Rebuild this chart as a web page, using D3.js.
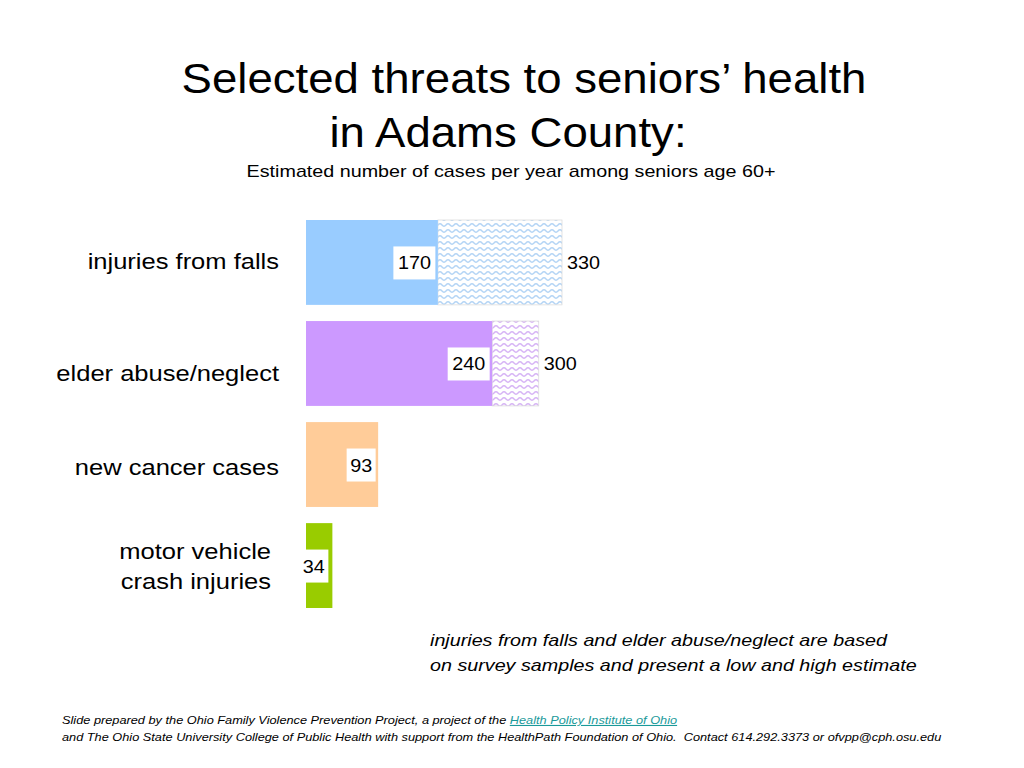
<!DOCTYPE html>
<html>
<head>
<meta charset="utf-8">
<script src="https://cdn.jsdelivr.net/npm/d3@7"></script>
<style>
  body { margin: 0; background: #fff; }
  svg text { font-family: "Liberation Sans", Arial, sans-serif; }
</style>
</head>
<body>
<div id="chart"></div>
<script>
// data
var categories = ["injuries from falls", "elder abuse/neglect", "new cancer cases", "motor vehicle\ncrash injuries"];
var lowValues = [170, 240, 93, 34];
var highValues = [330, 300, null, null];
var barColors = ["#99ccff", "#cc99ff", "#ffcc99", "#99cc00"];
var waveColors = ["#b3d4f5", "#d6b3f5", null, null];

var svgWidth = 1024;
var svgHeight = 768;
// the slide's text is a bit wider than Liberation Sans
var stretch = 1.16;

var svg = d3.select('#chart')
    .append('svg')
    .attr('width', svgWidth)
    .attr('height', svgHeight);

// helper: text placed at x,y and stretched horizontally
function addText(x, y, size, anchor, sx) {
    return svg.append('text')
        .attr('transform', `translate(${x}, ${y}) scale(${sx || stretch}, 1)`)
        .attr('text-anchor', anchor || 'start')
        .style('font-size', size + 'px');
}

// wavy patterns for the high estimate part
var defs = svg.append('defs');
waveColors.forEach(function(c, i) {
    if (!c) return;
    var p = defs.append('pattern')
        .attr('id', 'wave' + i)
        .attr('patternUnits', 'userSpaceOnUse')
        .attr('width', 8)
        .attr('height', 6);
    p.append('rect').attr('width', 8).attr('height', 6).attr('fill', '#fff');
    p.append('path')
        .attr('d', 'M-2,3 Q0,0.5 2,3 T6,3 T10,3')
        .attr('fill', 'none')
        .attr('stroke', c)
        .attr('stroke-width', 1.3);
});

// scales
var xScale = d3.scaleLinear()
    .domain([0, 330])
    .range([306, 562]);

var yScale = d3.scaleBand()
    .domain(categories)
    .range([220, 608])
    .paddingInner(0.16)
    .paddingOuter(0);

var rows = categories.map(function(c, i) {
    return { cat: c, low: lowValues[i], high: highValues[i], i: i };
});

// high estimate bars
svg.selectAll('.high')
    .data(rows.filter(d => d.high))
    .enter()
    .append('rect')
    .attr('x', d => xScale(d.low))
    .attr('y', d => yScale(d.cat))
    .attr('width', d => xScale(d.high) - xScale(d.low))
    .attr('height', yScale.bandwidth())
    .attr('fill', d => 'url(#wave' + d.i + ')')
    .attr('stroke', '#dcdcdc')
    .attr('stroke-width', 0.8);

// low estimate bars
svg.selectAll('.low')
    .data(rows)
    .enter()
    .append('rect')
    .attr('x', xScale(0))
    .attr('y', d => yScale(d.cat))
    .attr('width', d => xScale(d.low) - xScale(0))
    .attr('height', yScale.bandwidth())
    .attr('fill', d => barColors[d.i]);

// value boxes inside low bars
var boxW = function(d) { return String(d.low).length * 13 + 3; };
var boxRight = function(d) { return xScale(d.low) - (d.low < 50 ? 4 : 2.5); };

svg.selectAll('.valbox')
    .data(rows)
    .enter()
    .append('rect')
    .attr('x', d => boxRight(d) - boxW(d))
    .attr('y', d => yScale(d.cat) + yScale.bandwidth() / 2 - 16)
    .attr('width', boxW)
    .attr('height', 33)
    .attr('fill', '#fff');

rows.forEach(function(d) {
    addText(boxRight(d) - boxW(d) / 2, yScale(d.cat) + yScale.bandwidth() / 2 + 7, 18, 'middle', 1.1)
        .text(d.low);
    if (d.high) {
        addText(xScale(d.high) + 5, yScale(d.cat) + yScale.bandwidth() / 2 + 7, 18, 'start', 1.1)
            .text(d.high);
    }
});

// category labels
var labelShift = [-1, 10, 2, 0];
rows.forEach(function(d) {
    var lines = d.cat.split('\n');
    var cy = yScale(d.cat) + yScale.bandwidth() / 2 + labelShift[d.i];
    lines.forEach(function(l, k) {
        addText(lines.length > 1 ? 271 : 279, cy + 8 + (k - (lines.length - 1) / 2) * 30, 22, 'end')
            .text(l);
    });
});

// titles
addText(524, 93, 43, 'middle', 1.06).text('Selected threats to seniors\u2019 health');
addText(508, 147, 43, 'middle', 1.06).text('in Adams County:');
addText(511, 177, 17, 'middle').text('Estimated number of cases per year among seniors age 60+');

// note
addText(430, 646, 17, 'start').style('font-style', 'italic')
    .text('injuries from falls and elder abuse/neglect are based');
addText(430, 671, 17, 'start').style('font-style', 'italic')
    .text('on survey samples and present a low and high estimate');

// footer
var f1 = addText(62, 724, 11, 'start').style('font-style', 'italic');
f1.append('tspan').text('Slide prepared by the Ohio Family Violence Prevention Project, a project of the ');
f1.append('tspan')
    .attr('fill', '#1a9a9a')
    .style('text-decoration', 'underline')
    .text('Health Policy Institute of Ohio');

addText(62, 741, 11, 'start').style('font-style', 'italic')
    .text('and The Ohio State University College of Public Health with support from the HealthPath Foundation of Ohio.\u00a0 Contact 614.292.3373 or ofvpp@cph.osu.edu');
</script>
</body>
</html>
